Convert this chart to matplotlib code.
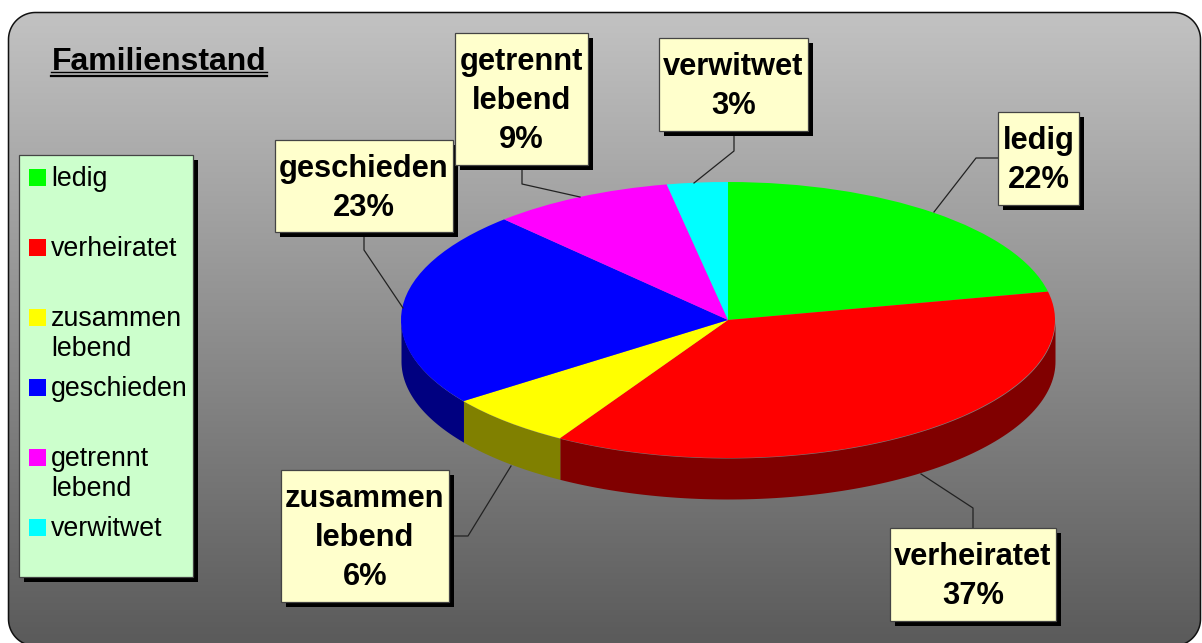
import numpy as np
import matplotlib
matplotlib.use('Agg')
import matplotlib.pyplot as plt
from matplotlib.patches import Polygon, Rectangle

plt.rcParams['font.family'] = ['Liberation Sans', 'DejaVu Sans']

# Data
categories = ['ledig', 'verheiratet', 'zusammen\nlebend', 'geschieden', 'getrennt\nlebend', 'verwitwet']
values = [21.7, 36.9, 6.4, 23.0, 9.0, 3.0]
colors = ['#00ff00', '#ff0000', '#ffff00', '#0000ff', '#ff00ff', '#00ffff']
side_colors = ['#008000', '#800000', '#808000', '#000080', '#800080', '#008080']

W, H = 1202, 643
cx, cy, rx, ry, depth = 728, 320, 327, 138, 41


def pixel_axes(zorder):
    a = fig.add_axes([0, 0, 1, 1], zorder=zorder)
    a.set_xlim(0, W)
    a.set_ylim(H, 0)
    a.axis('off')
    a.patch.set_alpha(0)
    return a


def rounded_rect(l, t, r, b, rad):
    # corner arcs as a plain polygon, curved box paths misdraw past the canvas edge
    pts = []
    for ox, oy, start in [(r - rad, t + rad, -90), (r - rad, b - rad, 0), (l + rad, b - rad, 90), (l + rad, t + rad, 180)]:
        th = np.radians(np.linspace(start, start + 90, 30))
        pts.append(np.column_stack([ox + rad * np.cos(th), oy + rad * np.sin(th)]))
    return np.vstack(pts)


fig = plt.figure(figsize=(W / 100, H / 100), dpi=100, facecolor='white')
ax = pixel_axes(1)

# Background panel with grey gradient
panel_pts = rounded_rect(8.5, 12.5, 1200.5, 646, 27)
panel = Polygon(panel_pts, closed=True, facecolor='none', edgecolor='none')
ax.add_patch(panel)
grad = np.linspace(0, 1, 256).reshape(-1, 1)
img = ax.imshow(grad, extent=(0, W, 647, 13), cmap=matplotlib.colors.LinearSegmentedColormap.from_list(
    'bg', ['#5a5a5a', '#c2c2c2']), origin='lower', aspect='auto', zorder=0)
img.set_clip_path(panel)
ax.set_xlim(0, W)
ax.set_ylim(H, 0)
outline = Polygon(panel_pts, closed=True, facecolor='none', edgecolor='#111111', linewidth=1.1, zorder=1)
ax.add_patch(outline)

# Pie side walls, front half only
edges = 90 - np.cumsum([0] + values) * 3.6
for i in range(len(values)):
    t0, t1 = edges[i + 1], edges[i]
    # shift into the -180..0 window, which is the visible front
    for shift in (0, -360):
        a0 = max(t0 + shift, -180)
        a1 = min(t1 + shift, 0)
        if a1 > a0:
            th = np.radians(np.linspace(a0, a1, 100))
            x = cx + rx * np.cos(th)
            y = cy - ry * np.sin(th)
            ax.fill_between(x, y, y + depth, color=side_colors[i], linewidth=0, zorder=2)

# Top of the pie, squeezed into an ellipse
pie_ax = fig.add_axes([(cx - rx) / W, 1 - (cy + ry) / H, 2 * rx / W, 2 * ry / H], zorder=2)
pie_ax.pie(values, colors=colors, startangle=90, counterclock=False, radius=1)
pie_ax.set_aspect('auto')
pie_ax.set_xlim(-1, 1)
pie_ax.set_ylim(-1, 1)
pie_ax.axis('off')

top = pixel_axes(3)

# Leader lines
leaders = [
    [(998, 158), (976, 158), (934, 212)],
    [(973, 528), (973, 508), (921, 474)],
    [(449, 536), (468, 536), (511, 466)],
    [(364, 232), (364, 250), (403, 308)],
    [(522, 165), (522, 184), (580, 197)],
    [(734, 131), (734, 151), (694, 183)],
]
for pts in leaders:
    top.plot([p[0] for p in pts], [p[1] for p in pts], color='#222222', lw=0.9, zorder=1)

# Data label boxes: left, top, right, bottom, first line y
boxes = [
    (998, 112, 1079, 205, 141),
    (890, 528, 1056, 621, 557),
    (281, 470, 449, 602, 499),
    (275, 140, 453, 232, 169),
    (455, 33, 588, 165, 62),
    (659, 38, 808, 131, 67),
]


def shadow_box(l, t, r, b, face):
    top.add_patch(Rectangle((l + 5, t + 5), r - l, b - t, facecolor='black', edgecolor='none', zorder=2))
    top.add_patch(Rectangle((l, t), r - l, b - t, facecolor=face, edgecolor='#444444', lw=0.9, zorder=3))


for name, val, (l, t, r, b, y0) in zip(categories, values, boxes):
    shadow_box(l, t, r, b, '#ffffcc')
    lines = name.split('\n') + [f'{val:.0f}%']
    for k, line in enumerate(lines):
        top.text((l + r) / 2, y0 + k * 39, line, fontsize=22.2, fontweight='bold', color='black',
                 ha='center', va='center', zorder=4)

# Legend
shadow_box(19, 155, 193, 577, '#ccffcc')
legend_y = [177, 247, 317, 387, 457, 527]
for name, col, y in zip(categories, colors, legend_y):
    top.add_patch(Rectangle((29, y - 8.5), 17, 17, facecolor=col, edgecolor='none', zorder=4))
    for k, line in enumerate(name.split('\n')):
        top.text(51, y + 2 + k * 30, line, fontsize=19.3, color='black', ha='left', va='center', zorder=4)

# Title with double underline
top.text(52, 62.5, 'Familienstand', fontsize=23, fontweight='bold', color='black', ha='left', va='center', zorder=4)
top.plot([51, 267], [72, 72], color='black', lw=1.0, zorder=4)
top.plot([51, 267], [75.5, 75.5], color='black', lw=1.6, zorder=4)

fig.savefig('out.png', dpi=100)
